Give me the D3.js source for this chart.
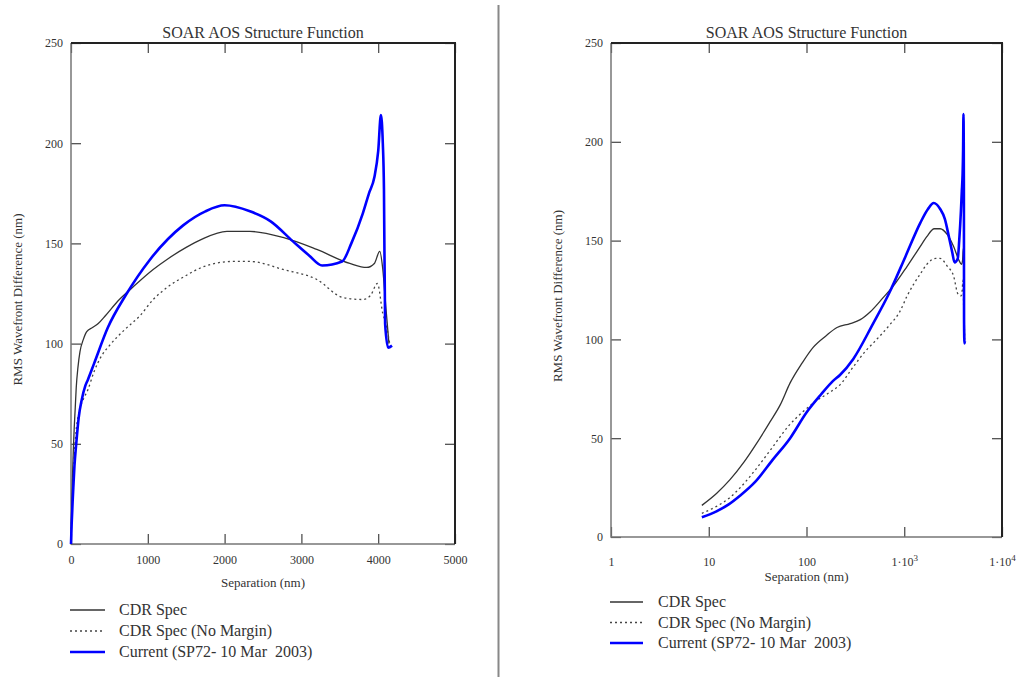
<!DOCTYPE html>
<html>
<head>
<meta charset="utf-8">
<script src="https://cdn.jsdelivr.net/npm/d3@7"></script>
<style>
  body { margin: 0; background: #fff; }
</style>
</head>
<body>
<div id="chart"></div>
<script>
// separation (nm) and RMS wavefront difference (nm)
const cdrSep = [0, 8.5, 12, 16.5, 23, 31, 42, 54, 68, 90, 117, 160, 205, 280, 355, 450, 605, 800, 1070, 1250, 1500, 1700, 2030, 2330, 2760, 3200, 3630, 3850, 3950, 4020, 4060, 4100, 4140];
const cdrVal = [0, 16, 22, 29, 38, 47.5, 58, 67, 78, 88, 96, 102, 106, 108, 110, 114, 121, 128, 137, 142, 148, 152, 156, 156, 153, 147, 140, 138, 140, 146, 137, 118, 100];

const noMarginSep = [0, 8.5, 12, 16, 21, 30, 45, 65, 90, 127, 170, 220, 300, 400, 500, 700, 900, 1070, 1250, 1500, 1700, 2110, 2330, 2760, 3200, 3540, 3800, 3900, 3990, 4060, 4100, 4150];
const noMarginVal = [0, 12, 15.5, 19.5, 25, 34, 45.5, 56, 63, 69, 73, 77, 86, 94, 99, 107, 114, 122, 128, 134, 138, 141, 141, 137, 132, 123, 122, 124, 130, 115, 110, 100];

const currentSep = [0, 8.5, 12, 16, 21, 30, 45, 68, 100, 140, 187, 220, 300, 480, 710, 1030, 1460, 1750, 2000, 2330, 2600, 2890, 3100, 3270, 3530, 3650, 3800, 3880, 3950, 4000, 4035, 4060, 4075, 4090, 4130, 4180];
const currentVal = [0, 10, 13, 16.5, 21, 28, 39, 50, 63, 72, 79, 82, 90, 108, 124, 142, 159, 166, 169, 166, 161, 151, 144, 139, 141, 150, 165, 175, 183, 196, 214, 200, 177, 110, 98, 99];

const yTicks = [0, 50, 100, 150, 200, 250];
const linTicks = [0, 1000, 2000, 3000, 4000, 5000];
const logTicks = [1, 10, 100, 1000, 10000];
const legendLabels = ['CDR Spec', 'CDR Spec (No Margin)', 'Current (SP72- 10 Mar  2003)'];

const FONT = '"Times New Roman", Times, "Liberation Serif", "DejaVu Serif", serif';

const SERIES = [
  { sep: cdrSep, val: cdrVal, color: '#333', width: 1.3, dash: null },
  { sep: noMarginSep, val: noMarginVal, color: '#444', width: 1.3, dash: '2,3' },
  { sep: currentSep, val: currentVal, color: '#0000ff', width: 2.6, dash: null }
];

const svg = d3.select('#chart').append('svg')
  .attr('width', 1026).attr('height', 677)
  .attr('font-family', FONT);

// divider between the two panels
svg.append('line')
  .attr('x1', 498.5).attr('x2', 498.5).attr('y1', 5).attr('y2', 677)
  .attr('stroke', '#888').attr('stroke-width', 2);

function drawPanel(opts) {
  const { x, y, log } = opts;
  const [x0, x1] = x.range();
  const [y1, y0] = y.range();
  const g = svg.append('g');

  const styleAxis = (axis) => {
    axis.attr('font-family', FONT);
    axis.selectAll('path').remove();
    axis.selectAll('line').attr('stroke', '#444').attr('stroke-width', 1.2);
    axis.selectAll('text').attr('fill', '#333').style('font-size', '12px');
  };

  const bottom = g.append('g').attr('transform', `translate(0,${y1})`)
    .call(d3.axisBottom(x).tickValues(log ? logTicks : linTicks)
      .tickSizeInner(-10).tickSizeOuter(0).tickPadding(opts.xPad)
      .tickFormat(log ? () => '' : d3.format('d')));
  styleAxis(bottom);
  if (log) {
    bottom.selectAll('.tick text').each(function (d) {
      const t = d3.select(this);
      if (d < 1000) { t.text(d); return; }
      t.append('tspan').text('1·10');
      t.append('tspan').attr('dy', '-0.45em').style('font-size', '9px').text(Math.log10(d));
    });
  }

  const top = g.append('g').attr('transform', `translate(0,${y0})`)
    .call(d3.axisTop(x).tickValues(log ? logTicks : linTicks)
      .tickSizeInner(-10).tickSizeOuter(0).tickFormat(''));
  styleAxis(top);

  const left = g.append('g').attr('transform', `translate(${x0},0)`)
    .call(d3.axisLeft(y).tickValues(yTicks).tickSizeInner(-10).tickSizeOuter(0).tickPadding(8));
  styleAxis(left);

  const right = g.append('g').attr('transform', `translate(${x1},0)`)
    .call(d3.axisRight(y).tickValues(yTicks).tickSizeInner(-10).tickSizeOuter(0).tickFormat(''));
  styleAxis(right);

  // frame
  g.append('path').attr('d', `M${x0},${y0}V${y1}H${x1}`)
    .attr('fill', 'none').attr('stroke', '#777').attr('stroke-width', 1.5);
  g.append('path').attr('d', `M${x0},${y0}H${x1}V${y1}`)
    .attr('fill', 'none').attr('stroke', '#222').attr('stroke-width', 2);

  SERIES.forEach((s) => {
    const pts = s.sep.map((d, i) => [d, s.val[i]]).filter((p) => !log || p[0] > 0);
    const line = d3.line().x((p) => x(p[0])).y((p) => y(p[1])).curve(d3.curveMonotoneX);
    g.append('path').datum(pts)
      .attr('d', line)
      .attr('fill', 'none')
      .attr('stroke', s.color)
      .attr('stroke-width', s.width)
      .attr('stroke-linejoin', 'round')
      .attr('stroke-dasharray', s.dash);
  });

  const cx = (x0 + x1) / 2;
  const label = (sel) => sel.attr('fill', '#333').attr('font-family', FONT);
  g.append('text').attr('x', cx).attr('y', 38).attr('text-anchor', 'middle')
    .call(label).style('font-size', '16px').text('SOAR AOS Structure Function');
  g.append('text').attr('x', cx).attr('y', opts.xLabelY).attr('text-anchor', 'middle')
    .call(label).style('font-size', '13px').text('Separation (nm)');
  g.append('text')
    .attr('transform', `translate(${opts.yLabelX},${(y0 + y1) / 2 + 6}) rotate(-90)`)
    .attr('text-anchor', 'middle').call(label).style('font-size', '13px')
    .text('RMS Wavefront Difference (nm)');

  const lg = g.append('g');
  legendLabels.forEach((text, i) => {
    const s = SERIES[i];
    const ly = opts.legend.y + i * opts.legend.step;
    lg.append('line')
      .attr('x1', opts.legend.x).attr('x2', opts.legend.x + opts.legend.len)
      .attr('y1', ly).attr('y2', ly)
      .attr('stroke', s.color).attr('stroke-width', s.width)
      .attr('stroke-dasharray', s.dash);
    lg.append('text').attr('x', opts.legend.tx).attr('y', ly + 5)
      .call(label).style('font-size', '16px').style('white-space', 'pre').text(text);
  });
}

drawPanel({
  x: d3.scaleLinear().domain([0, 5000]).range([71, 455]),
  y: d3.scaleLinear().domain([0, 250]).range([544, 43]),
  log: false,
  xPad: 11,
  xLabelY: 587,
  yLabelX: 22,
  legend: { x: 70, len: 35, tx: 119, y: 610, step: 21 }
});

drawPanel({
  x: d3.scaleLog().domain([1, 10000]).range([611, 1002]),
  y: d3.scaleLinear().domain([0, 250]).range([537, 43]),
  log: true,
  xPad: 20,
  xLabelY: 581,
  yLabelX: 562,
  legend: { x: 610, len: 33, tx: 658, y: 602, step: 20.5 }
});
</script>
</body>
</html>
